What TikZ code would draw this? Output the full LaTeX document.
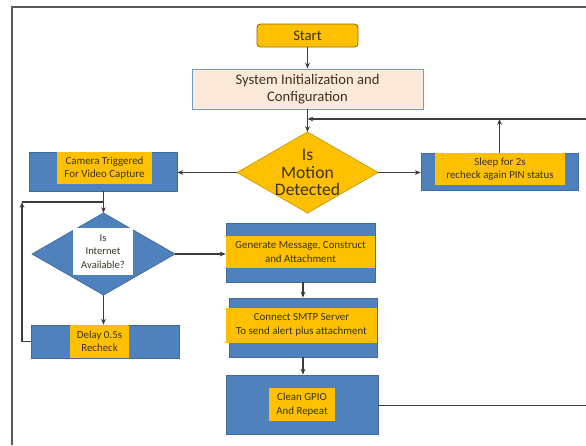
\documentclass[tikz,border=0pt]{standalone}
\usepackage{fontspec}
\setmainfont{Carlito}
\usetikzlibrary{arrows.meta, shapes.geometric}
\definecolor{boxblue}{HTML}{4F81BD}
\definecolor{boxedge}{HTML}{41699A}
\definecolor{boxorange}{HTML}{FFC000}
\definecolor{startedge}{HTML}{8A6A10}
\definecolor{peach}{HTML}{FDE9D9}
\definecolor{wire}{HTML}{3C3C3C}
\definecolor{ink}{HTML}{3A3320}

\begin{document}
\begin{tikzpicture}[x=0.03cm, y=-0.03cm, thick,
   flow line/.style={draw=wire, line width=0.9pt},
   flow arrow/.style={flow line, -{Stealth[length=5pt,width=4pt]}},
   outer box/.style={rectangle, fill=boxblue, draw=boxedge, line width=0.6pt, inner sep=0},
   inner box/.style={rectangle, fill=boxorange, inner sep=0, align=center, text=ink, font=\fontsize{9.3}{11.5}\selectfont},
   decision/.style={diamond, inner sep=0, outer sep=0, draw=boxedge, line width=0.6pt}]

   \useasboundingbox (0,0) rectangle (586,445);
   \draw[draw=black!65, line width=0.9pt] (12,445) -- (12,7) -- (586,7);

   % top part
   \node[rectangle, rounded corners=3pt, fill=boxorange, draw=startedge, line width=0.7pt, text=ink,
         minimum width=3.03cm, minimum height=0.69cm, font=\fontsize{12.5}{15}\selectfont] (start) at (307.5,35.5) {Start};
   \node[rectangle, fill=peach, draw=boxblue!80, line width=0.7pt, text=ink, align=center,
         minimum width=6.93cm, minimum height=1.2cm, font=\fontsize{12.5}{15}\selectfont] (init) at (307.5,89) {System Initialization and\\Configuration};
   \node[decision, fill=boxorange, draw=boxorange!80!black, minimum width=4.23cm, minimum height=2.43cm] (motion) at (307.5,172.5) {};
   \node[align=center, text=ink, inner sep=0, font=\fontsize{15}{15}\selectfont] (motiontext) at (motion) {Is\\Motion\\Detected};

   \node[outer box, minimum width=4.71cm, minimum height=1.11cm] (sleep) at (499.5,171.5) {};
   \node[inner box, minimum width=3.9cm, minimum height=0.96cm] (sleeptext) at (500,169) {Sleep for 2s\\recheck again PIN status};

   \node[outer box, minimum width=4.44cm, minimum height=1.17cm] (cam) at (103,171.5) {};
   \node[inner box, minimum width=2.85cm, minimum height=0.96cm] (camtext) at (104.5,168) {Camera Triggered\\For Video Capture};

   % internet check and retry
   \node[decision, fill=boxblue, minimum width=4.29cm, minimum height=2.46cm] (net) at (103.5,254) {};
   \node[rectangle, fill=white, inner sep=0, align=center, text=ink, minimum width=1.8cm, minimum height=1.41cm,
         font=\fontsize{9}{11.5}\selectfont] (nettext) at (103,251.5) {Is\\Internet\\Available?};

   \node[outer box, minimum width=4.44cm, minimum height=0.99cm] (delay) at (105,341.5) {};
   \node[inner box, minimum width=1.77cm, minimum height=0.99cm] (delaytext) at (99.5,341.5) {Delay 0.5s\\Recheck};

   % sending the alert
   \node[outer box, minimum width=4.47cm, minimum height=1.77cm] (gen) at (300.5,252.5) {};
   \node[inner box, minimum width=4.47cm, minimum height=0.96cm] (gentext) at (300.5,252) {Generate Message, Construct\\and Attachment};

   \node[outer box, minimum width=4.44cm, minimum height=1.77cm] (con) at (303,327.5) {};
   \node[inner box, minimum width=4.53cm, minimum height=1.05cm] (context) at (301.5,325) {Connect SMTP Server\\To send alert plus attachment};

   \node[outer box, minimum width=4.56cm, minimum height=1.77cm] (clean) at (302,404.5) {};
   \node[inner box, minimum width=1.98cm, minimum height=0.99cm] (cleantext) at (302,404.5) {Clean GPIO\\And Repeat};

   \coordinate (loopright) at (586,119);
   \coordinate (loopleft) at (22,202);
   \coordinate (cleanright) at (586,405.5);

   \draw[flow arrow] (start) -- (init);
   \draw[flow arrow] (init) -- (motion);
   \draw[flow arrow] (loopright) -- (loopright -| init.south);
   \draw[flow arrow] (sleep.north) -- (sleep.north |- loopright);
   \draw[flow arrow] (motion.east) -- (motion.east -| sleep.west);
   \draw[flow arrow] (motion.west) -- (motion.west -| cam.east);
   \draw[flow arrow] (net.north |- cam.south) -- (net.north);
   \draw[flow arrow] (delay.west) -| (loopleft);
   \draw[flow line] (loopleft) -- (loopleft -| net.north);
   \draw[flow arrow] (net.east) -- (net.east -| gen.west);
   \draw[flow arrow] (net.south) -- (net.south |- delay.north);
   \draw[flow arrow] (con.north |- gen.south) -- (con.north);
   \draw[flow arrow] (con.south) -- (con.south |- clean.north);
   \draw[flow line] (clean.east |- cleanright) -- (cleanright);
\end{tikzpicture}
\end{document}
